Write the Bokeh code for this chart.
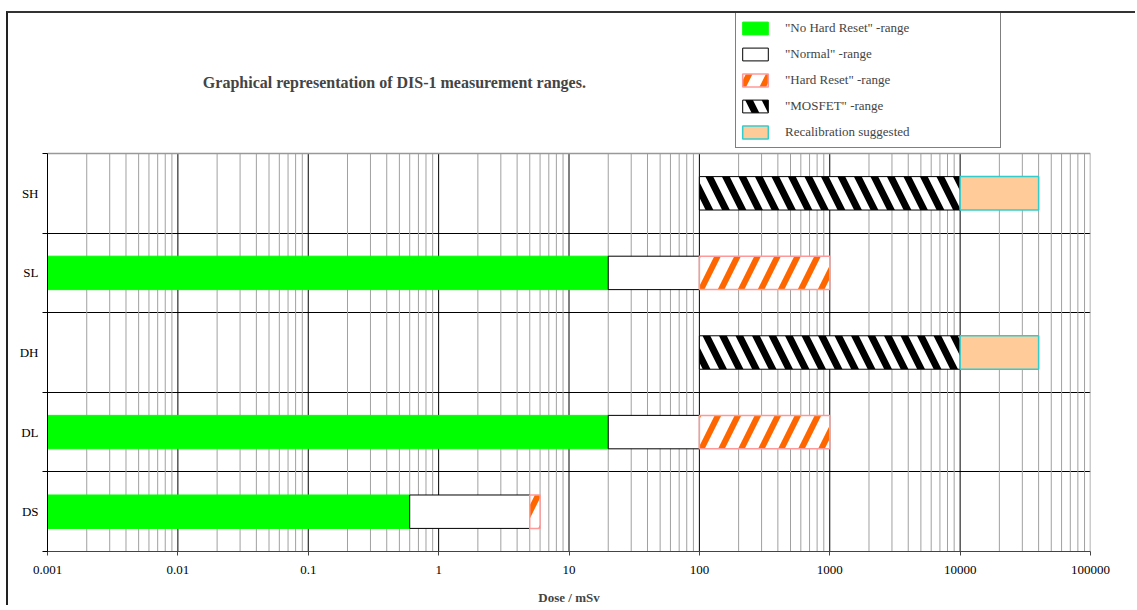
from bokeh.plotting import figure
from bokeh.models import (FixedTicker, Legend, LegendItem, Label, ColumnDataSource)
from bokeh.embed import file_html
from bokeh.resources import INLINE

# categories bottom-to-top
channels = ["DS", "DL", "DH", "SL", "SH"]
ypos = [0.5, 1.5, 2.5, 3.5, 4.5]

# ranges (mSv) per series
no_hard_reset_ch = ["DS", "DL", "SL"]
no_hard_reset_lo = [0.001, 0.001, 0.001]
no_hard_reset_hi = [0.6, 20, 20]

normal_ch = ["DS", "DL", "SL"]
normal_lo = [0.6, 20, 20]
normal_hi = [5, 100, 100]

hard_reset_ch = ["DS", "DL", "SL"]
hard_reset_lo = [5, 100, 100]
hard_reset_hi = [6, 1000, 1000]

mosfet_ch = ["DH", "SH"]
mosfet_lo = [100, 100]
mosfet_hi = [10000, 10000]

recal_ch = ["DH", "SH"]
recal_lo = [10000, 10000]
recal_hi = [40000, 40000]

decades = [0.001, 0.01, 0.1, 1, 10, 100, 1000, 10000, 100000]
decade_labels = ["0.001", "0.01", "0.1", "1", "10", "100", "1000", "10000", "100000"]

title_text = "Graphical representation of DIS-1 measurement ranges."
xlabel = "Dose / mSv"

FONT = "Liberation Serif"
ymap = dict(zip(channels, ypos))
NCAT = len(channels)

p = figure(width=1129, height=594, x_axis_type="log",
           x_range=(0.001, 100000), y_range=(0, 6.759),
           output_backend="svg", toolbar_location=None,
           min_border_left=39, min_border_right=47,
           min_border_top=0, min_border_bottom=56)
p.outline_line_color = None
p.background_fill_color = "white"
p.border_fill_color = "white"

minors = []
for d in decades[:-1]:
    for k in range(2, 10):
        minors.append(d * k)

p.xaxis.ticker = FixedTicker(ticks=decades, minor_ticks=minors)
p.xaxis.major_label_overrides = {d: s for d, s in zip(decades, decade_labels)}
p.xaxis.major_tick_out = 4
p.xaxis.major_tick_in = 0
p.xaxis.minor_tick_out = 0
p.xaxis.minor_tick_in = 0
p.xaxis.axis_line_color = "#444444"
p.xaxis.major_tick_line_color = "#444444"
p.xaxis.major_label_text_font = FONT
p.xaxis.major_label_text_font_size = "13px"
p.xaxis.major_label_text_color = "black"
p.xaxis.major_label_standoff = 10
p.xaxis.axis_label = xlabel
p.xaxis.axis_label_text_font = FONT
p.xaxis.axis_label_text_font_size = "13px"
p.xaxis.axis_label_text_font_style = "bold"
p.xaxis.axis_label_standoff = 13

p.yaxis.bounds = (0, NCAT)
p.yaxis.ticker = FixedTicker(ticks=ypos, minor_ticks=list(range(NCAT + 1)))
p.yaxis.major_label_overrides = {y: c for y, c in zip(ypos, channels)}
p.yaxis.major_tick_out = 0
p.yaxis.major_tick_in = 0
p.yaxis.minor_tick_out = 5
p.yaxis.minor_tick_in = 0
p.yaxis.axis_line_color = "black"
p.yaxis.major_label_text_font = FONT
p.yaxis.major_label_text_font_size = "13px"
p.yaxis.major_label_text_color = "black"
p.yaxis.major_label_standoff = 4

p.xgrid.visible = False
p.ygrid.ticker = FixedTicker(ticks=list(range(1, NCAT)))
p.ygrid.grid_line_color = "black"
p.ygrid.grid_line_alpha = 1

# plot-area grid limited to the category band
p.segment(x0=minors, y0=[0] * len(minors), x1=minors, y1=[NCAT] * len(minors),
          line_color="#a0a0a0", line_width=1)
p.segment(x0=decades[:-1], y0=[0] * (len(decades) - 1), x1=decades[:-1], y1=[NCAT] * (len(decades) - 1),
          line_color="black", line_width=1)
p.segment(x0=[decades[0], decades[-1]], y0=[NCAT, 0], x1=[decades[-1], decades[-1]], y1=[NCAT, NCAT],
          line_color="#999999", line_width=1.5)

H = 0.42

def src(ch, lo, hi):
    return ColumnDataSource(dict(y=[ymap[c] for c in ch], left=lo, right=hi))

r1 = p.hbar(y="y", left="left", right="right", height=H, source=src(no_hard_reset_ch, no_hard_reset_lo, no_hard_reset_hi),
            fill_color="#00ff00", line_color="#00ff00")
r2 = p.hbar(y="y", left="left", right="right", height=H, source=src(normal_ch, normal_lo, normal_hi),
            fill_color="white", line_color="black", line_width=1)
r3 = p.hbar(y="y", left="left", right="right", height=H, source=src(hard_reset_ch, hard_reset_lo, hard_reset_hi),
            fill_color="white", line_color="#ff9999", line_width=1.5,
            hatch_pattern="right_diagonal_line", hatch_color="#ff6600", hatch_scale=40, hatch_weight=6)
r4 = p.hbar(y="y", left="left", right="right", height=H, source=src(mosfet_ch, mosfet_lo, mosfet_hi),
            fill_color="white", line_color="black", line_width=1,
            hatch_pattern="left_diagonal_line", hatch_color="black", hatch_scale=33, hatch_weight=7)
r5 = p.hbar(y="y", left="left", right="right", height=H, source=src(recal_ch, recal_lo, recal_hi),
            fill_color="#ffcc99", line_color="#33cccc", line_width=1.5)

legend = Legend(items=[
    LegendItem(label='"No Hard Reset" -range', renderers=[r1]),
    LegendItem(label='"Normal" -range', renderers=[r2]),
    LegendItem(label='"Hard Reset" -range', renderers=[r3]),
    LegendItem(label='"MOSFET" -range', renderers=[r4]),
    LegendItem(label='Recalibration suggested', renderers=[r5]),
], location=(688, 403))
legend.label_text_font = FONT
legend.label_text_font_size = "13px"
legend.glyph_width = 32
legend.glyph_height = 16
legend.label_height = 24
legend.label_width = 212
legend.spacing = 2
legend.padding = 3
legend.margin = 0
legend.label_standoff = 14
legend.border_line_color = "black"
legend.border_line_width = 1
legend.background_fill_alpha = 1
p.add_layout(legend, "center")

p.add_layout(Label(x=0.458, y=5.892, text=title_text, text_font=FONT, text_font_size="16px",
                   text_font_style="bold", text_align="center", text_baseline="middle"))

p.styles = {"border-left": "2px solid #222", "border-top": "2px solid #333",
            "margin-left": "6px", "margin-top": "11px"}

open("out.html", "w").write(file_html(p, INLINE))
